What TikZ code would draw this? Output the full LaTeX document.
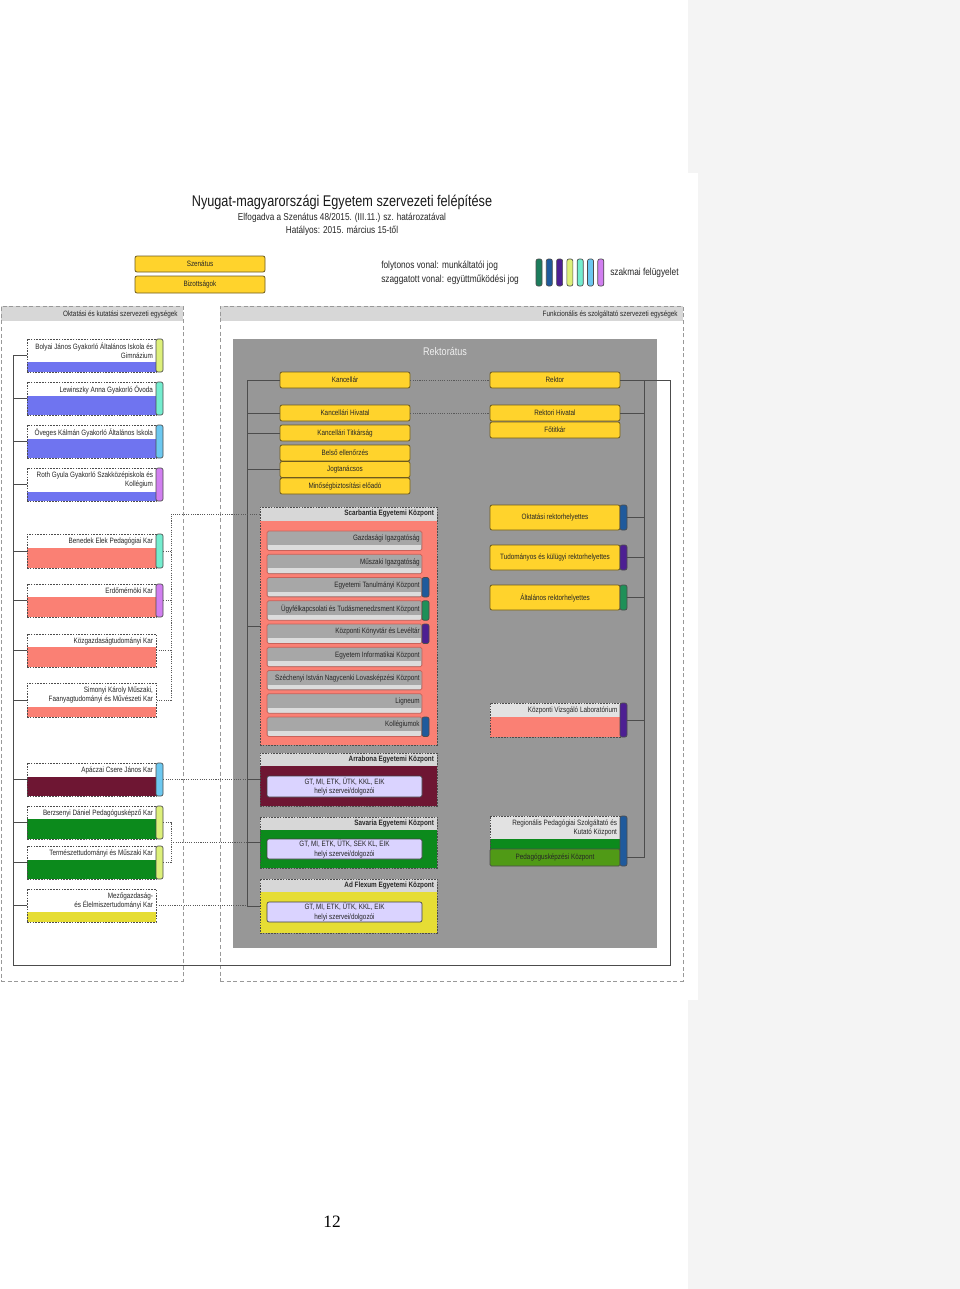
\documentclass[tikz,border=0pt]{standalone}
\usepackage{fontspec}
\setmainfont{Liberation Sans}[FakeStretch=0.82]
\newfontfamily\pagenumfont{Liberation Serif}

\definecolor{yfill}{HTML}{FFD32C}
\definecolor{ybord}{HTML}{6E5B1E}
\definecolor{salmon}{HTML}{FA8074}
\definecolor{bandblue}{HTML}{6F74F0}
\definecolor{maroon}{HTML}{6E1633}
\definecolor{dgreen}{HTML}{0C8A1C}
\definecolor{byellow}{HTML}{E6DD34}
\definecolor{olive}{HTML}{509A16}
\definecolor{panel}{HTML}{979797}
\definecolor{hdr}{HTML}{D7D7D7}
\definecolor{lighthdr}{HTML}{E2E2E2}
\definecolor{lav}{HTML}{DAD3FF}
\definecolor{itemgray}{HTML}{A7A7A7}
\definecolor{itemlight}{HTML}{DCDCDC}
\definecolor{itemedge}{HTML}{C8625A}
\definecolor{sidegray}{HTML}{F4F4F4}
\definecolor{bteal}{HTML}{1C7C5C}
\definecolor{bgreen}{HTML}{1E9058}
\definecolor{bblue}{HTML}{1F5A9C}
\definecolor{bpurple}{HTML}{4D1F92}
\definecolor{blime}{HTML}{DDF07A}
\definecolor{bmint}{HTML}{74EDCF}
\definecolor{bsky}{HTML}{6CC8F0}
\definecolor{blilac}{HTML}{D17FF0}

\newcommand\smallfnt{\fontsize{5.8}{6.9}\selectfont}

\tikzset{
  xy/.style n args={4}{at={({((#1)+(#3))/2},{((#2)+(#4))/2})}, anchor=center, inner sep=0pt,
     minimum width={((#3)-(#1))*0.75pt}, minimum height={((#4)-(#2))*0.75pt}},
  ybox/.style={fill=yfill, draw=ybord, line width=0.6pt, rounded corners=1.5pt, font=\smallfnt, text=black!85},
  barbox/.style={draw=black!70, line width=0.5pt, rounded corners=1.5pt},
  uframe/.style={draw=black!70, line width=0.5pt, dash pattern=on 1.2pt off 0.9pt},
  iframe/.style={draw=itemedge, line width=0.5pt, rounded corners=1.2pt},
  utext/.style={font=\smallfnt, align=right, inner sep=0.8pt, text=black!85},
  hdrtext/.style={font=\smallfnt\bfseries, inner sep=0.8pt, text=black!85},
  lavbox/.style={fill=lav, draw=black!75, line width=0.5pt, rounded corners=1.5pt, font=\smallfnt, align=center, text=black!85},
  outerbox/.style={draw=black!40, line width=0.75pt, dash pattern=on 3pt off 2pt},
  solidline/.style={draw=black!70, line width=0.75pt},
  dotline/.style={draw=black!65, line width=0.6pt, dash pattern=on 0.8pt off 0.9pt},
  legend/.style={font=\fontsize{7.6}{9}\selectfont, inner sep=0pt, text=black!85},
}

% left unit: name, top, band top, bottom, band colour, text
\newcommand\lunit[6]{%
  \fill[white] (27,#2) rectangle (156,#4);
  \fill[#5] (27,#3) rectangle (156,#4);
  \node[uframe, xy={27}{#2}{156}{#4}] (#1) {};
  \node[utext, anchor=north east] (#1t) at ([xshift=-1.5pt,yshift=-1.8pt]#1.north east) {#6};
}
% bar: name, colour, x, top, bottom
\newcommand\ubar[5]{\node[barbox, fill=#2, xy={#3}{#4}{#3+7}{#5}] (#1) {};}
% scarbantia item: name, top, text
\newcommand\sitem[3]{%
  \fill[itemgray, rounded corners=1.2pt] (267,#2) rectangle (422,#2+19.5);
  \fill[itemlight] (267.7,#2+14) rectangle (421.3,#2+18.8);
  \node[iframe, xy={267}{#2}{422}{#2+19.5}] (#1) {};
  \node[utext, anchor=east] (#1t) at ([xshift=-1pt,yshift=1.4pt]#1.east) {#3};
}
% group: name, top, header bottom, bottom, body colour, header text
\newcommand\ugroup[6]{%
  \fill[#5] (260,#3) rectangle (437,#4);
  \node[fill=hdr, xy={260}{#2}{437}{#3}] (#1h) {};
  \node[uframe, xy={260}{#2}{437}{#4}] (#1) {};
  \node[hdrtext, anchor=east] (#1t) at ([xshift=-1.5pt]#1h.east) {#6};
}

\begin{document}
\begin{tikzpicture}[x=0.75pt,y=-0.75pt]
\useasboundingbox (0,0) rectangle (960,1289);
\fill[white] (0,0) rectangle (960,1289);
\fill[sidegray] (688,0) rectangle (960,173);
\fill[sidegray] (698,173) rectangle (960,1000);
\fill[sidegray] (688,1000) rectangle (960,1289);

% titles
\node[font=\fontsize{11.6}{13}\selectfont, text=black!90, inner sep=0pt] (title) at (342,202) {Nyugat-magyarországi Egyetem szervezeti felépítése};
\node[font=\fontsize{7.5}{9}\selectfont, text=black!85, inner sep=0pt] (sub1) at (342,218) {Elfogadva a Szenátus 48/2015. (III.11.) sz. határozatával};
\node[font=\fontsize{7.5}{9}\selectfont, text=black!85, inner sep=0pt] (sub2) at (342,231) {Hatályos: 2015. március 15-től};

% senate
\node[ybox, xy={135}{256}{265}{272}] (szenatus) {Szenátus};
\node[ybox, xy={135}{276}{265}{293}] (bizottsag) {Bizottságok};

% legend
\node[legend, anchor=west] (lg1) at (381,266) {folytonos vonal: munkáltatói jog};
\node[legend, anchor=west] (lg2) at (381,280) {szaggatott vonal: együttműködési jog};
\foreach \c [count=\i from 0] in {bteal,bblue,bpurple,blime,bmint,bsky,blilac}
  \node[barbox, fill=\c, xy={536+\i*10.3}{259}{542+\i*10.3}{286}] (lgbar\i) {};
\node[legend, anchor=west] (lg3) at (610,273) {szakmai felügyelet};

% outer areas
\fill[hdr] (1,306) rectangle (183,321);
\node[outerbox, xy={1}{306}{183}{981}] (leftarea) {};
\node[utext, anchor=east] (lefthdr) at (179,314) {Oktatási és kutatási szervezeti egységek};
\fill[hdr] (220,306) rectangle (683,321);
\node[outerbox, xy={220}{306}{683}{981}] (rightarea) {};
\node[utext, anchor=east] (righthdr) at (679,314) {Funkcionális és szolgáltató szervezeti egységek};

% Rektoratus panel
\node[fill=panel, xy={233}{339}{657}{948}] (panel) {};
\node[font=\fontsize{8.3}{10}\selectfont, text=black!6, inner sep=0pt] (rektoratus) at (445,351) {Rektorátus};

% Kancellar column
\node[ybox, xy={280}{372}{410}{388}] (kanc) {Kancellár};
\node[ybox, xy={280}{405}{410}{421}] (kanchiv) {Kancellári Hivatal};
\node[ybox, xy={280}{425}{410}{441}] (kanctit) {Kancellári Titkárság};
\node[ybox, xy={280}{445}{410}{461}] (belso) {Belső ellenőrzés};
\node[ybox, xy={280}{461.5}{410}{477.5}] (jog) {Jogtanácsos};
\node[ybox, xy={280}{478}{410}{494}] (minos) {Minőségbiztosítási előadó};

% Rektor column
\node[ybox, xy={490}{372}{620}{388}] (rektor) {Rektor};
\node[ybox, xy={490}{405}{620}{421}] (rekhiv) {Rektori Hivatal};
\node[ybox, xy={490}{422}{620}{438}] (fotitkar) {Főtitkár};

\node[ybox, xy={490}{505}{620}{530}] (okt) {Oktatási rektorhelyettes};
\ubar{oktbar}{bblue}{620}{505}{530}
\node[ybox, xy={490}{545}{620}{570}] (tud) {Tudományos és külügyi rektorhelyettes};
\ubar{tudbar}{bpurple}{620}{545}{570}
\node[ybox, xy={490}{585}{620}{610}] (alt) {Általános rektorhelyettes};
\ubar{altbar}{bgreen}{620}{585}{610}

% Kozponti Vizsgalo Laboratorium
\fill[lighthdr] (490,703) rectangle (620,717);
\fill[salmon] (490,717) rectangle (620,737);
\node[uframe, xy={490}{703}{620}{737}] (vizsg) {};
\node[utext, anchor=north east] (vizsgt) at ([xshift=-1.2pt,yshift=-1.8pt]vizsg.north east) {Központi Vizsgáló Laboratórium};
\ubar{vizsgbar}{bpurple}{620}{703}{737}

% Regionalis
\fill[lighthdr] (490,816) rectangle (620,839);
\fill[dgreen] (490,839) rectangle (620,849);
\node[uframe, xy={490}{816}{620}{849}] (regio) {};
\node[utext, anchor=north east] (regiot) at ([xshift=-1.5pt,yshift=-1.8pt]regio.north east) {Regionális Pedagógiai Szolgáltató és\\Kutató Központ};
\node[fill=olive, draw=black!70, line width=0.5pt, rounded corners=1pt, font=\smallfnt, text=black!85, xy={490}{849}{620}{866}] (pedk) {Pedagógusképzési Központ};
\ubar{regbar}{bblue}{620}{816}{866}

% Scarbantia
\ugroup{scar}{507}{521}{745}{salmon}{Scarbantia Egyetemi Központ}
\sitem{gazd}{531}{Gazdasági Igazgatóság}
\sitem{musz}{554.25}{Műszaki Igazgatóság}
\sitem{etk}{577.5}{Egyetemi Tanulmányi Központ}
\sitem{ugyf}{600.75}{Ügyfélkapcsolati és Tudásmenedzsment Központ}
\sitem{konyv}{624}{Központi Könyvtár és Levéltár}
\sitem{infk}{647.25}{Egyetem Informatikai Központ}
\sitem{lovas}{670.5}{Széchenyi István Nagycenki Lovasképzési Központ}
\sitem{ligneum}{693.75}{Ligneum}
\sitem{koll}{717}{Kollégiumok}
\ubar{etkbar}{bblue}{422}{577.5}{597}
\ubar{ugyfbar}{bgreen}{422}{600.75}{620.25}
\ubar{konyvbar}{bpurple}{422}{624}{643.5}
\ubar{kollbar}{bblue}{422}{717}{736.5}

% Arrabona, Savaria, Ad Flexum
\ugroup{arrabona}{753}{766}{806}{maroon}{Arrabona Egyetemi Központ}
\node[lavbox, xy={267}{776}{422}{797}] (arrin) {GT, MI, ETK, ÜTK, KKL, EIK\\helyi szervei/dolgozói};
\ugroup{savaria}{817}{830}{868}{dgreen}{Savaria Egyetemi Központ}
\node[lavbox, xy={267}{839}{422}{859}] (savin) {GT, MI, ETK, ÜTK, SEK KL, EIK\\helyi szervei/dolgozói};
\ugroup{adflex}{879}{892}{933}{byellow}{Ad Flexum Egyetemi Központ}
\node[lavbox, xy={267}{902}{422}{922}] (adin) {GT, MI, ETK, ÜTK, KKL, EIK\\helyi szervei/dolgozói};

% left column units
\lunit{bolyai}{339}{362}{372}{bandblue}{Bolyai János Gyakorló Általános Iskola és\\Gimnázium}
\ubar{bolyaibar}{blime}{156}{339}{372}
\lunit{lewinszky}{382}{396}{415}{bandblue}{Lewinszky Anna Gyakorló Óvoda}
\ubar{lewbar}{bmint}{156}{382}{415}
\lunit{oveges}{425}{439}{458}{bandblue}{Öveges Kálmán Gyakorló Általános Iskola}
\ubar{ovbar}{bsky}{156}{425}{458}
\lunit{roth}{468}{492}{501}{bandblue}{Roth Gyula Gyakorló Szakközépiskola és\\Kollégium}
\ubar{rothbar}{blilac}{156}{468}{501}
\lunit{benedek}{534}{548}{568}{salmon}{Benedek Elek Pedagógiai Kar}
\ubar{benbar}{bmint}{156}{534}{568}
\lunit{erdo}{584}{597}{617}{salmon}{Erdőmérnöki Kar}
\ubar{erdobar}{blilac}{156}{584}{617}
\lunit{kozgaz}{634}{647}{667}{salmon}{Közgazdaságtudományi Kar}
\lunit{simonyi}{683}{707}{717}{salmon}{Simonyi Károly Műszaki,\\Faanyagtudományi és Művészeti Kar}
\lunit{apaczai}{763}{777}{796}{maroon}{Apáczai Csere János Kar}
\ubar{apbar}{bsky}{156}{763}{796}
\lunit{berzsenyi}{806}{819}{839}{dgreen}{Berzsenyi Dániel Pedagógusképző Kar}
\ubar{berzbar}{blime}{156}{806}{839}
\lunit{termtud}{846}{860}{879}{dgreen}{Természettudományi és Műszaki Kar}
\ubar{termbar}{blime}{156}{846}{879}
\lunit{mezo}{889}{912}{922}{byellow}{Mezőgazdaság-\\és Élelmiszertudományi Kar}

% trunk coordinates
\coordinate (fr) at (670,965);
\coordinate (fl) at (13,965);
\coordinate (rtrunk) at (644,380);
\coordinate (ktrunk) at (247,380);
\coordinate (dv1) at (171,514);
\coordinate (dv2) at (171,842);

% solid lines: main frame
\draw[solidline] (rektor.east) -| (fr) -- (fl) |- (bolyai.west);
\foreach \n in {lewinszky,oveges,roth,benedek,erdo,kozgaz,simonyi,apaczai,berzsenyi,termtud,mezo}
  \draw[solidline] (\n.west) -- (\n.west -| fl);
% rektor trunk
\draw[solidline] (rtrunk) -- (rtrunk |- pedk.east) -- (regbar.east |- pedk.east);
\draw[solidline] (rekhiv.east) -- (rekhiv.east -| rtrunk);
\draw[solidline] (oktbar.east) -- (oktbar.east -| rtrunk);
\draw[solidline] (tudbar.east) -- (tudbar.east -| rtrunk);
\draw[solidline] (altbar.east) -- (altbar.east -| rtrunk);
\draw[solidline] (vizsgbar.east) -- (vizsgbar.east -| rtrunk);
% kancellar trunk
\draw[solidline] (kanc.west) -- (ktrunk) -- (ktrunk |- adflex.west) -- (adflex.west);
\foreach \n in {kanchiv,kanctit,jog,scar,arrabona,savaria}
  \draw[solidline] (\n.west) -- (\n.west -| ktrunk);

% dotted cooperation lines
\draw[dotline] (kanc.east) -- (rektor.west);
\draw[dotline] (kanchiv.east) -- (rekhiv.west);
\draw[dotline] (scarh.west) -- (dv1) |- (simonyi.east);
\draw[dotline] (benbar.east) -- (benbar.east -| dv1);
\draw[dotline] (erdobar.east) -- (erdobar.east -| dv1);
\draw[dotline] (kozgaz.east) -- (kozgaz.east -| dv1);
\draw[dotline] (apbar.east) -- (apbar.east -| ktrunk);
\draw[dotline] (berzbar.east) -| (dv2);
\draw[dotline] (termbar.east) -| (dv2);
\draw[dotline] (dv2) -- (dv2 -| ktrunk);
\draw[dotline] (mezo.east) -- (mezo.east -| ktrunk);

% page number
\node[font=\pagenumfont\fontsize{13}{15}\selectfont, inner sep=0pt] (pagenum) at (332,1222) {12};
\end{tikzpicture}
\end{document}
